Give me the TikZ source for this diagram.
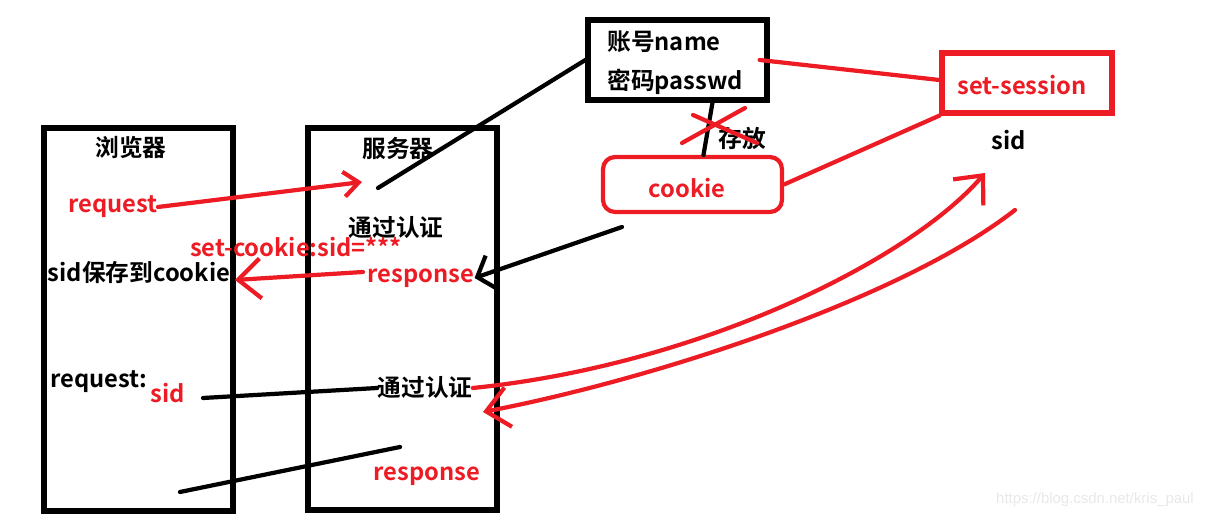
\documentclass[tikz,border=0pt]{standalone}
\usepackage{fontspec}
\setmainfont{Noto Sans CJK SC}[BoldFont={Noto Sans CJK SC Bold}]
\newfontfamily\wmfont{Liberation Sans}
\usetikzlibrary{arrows.meta}
\definecolor{pen}{RGB}{237,28,36}

\begin{document}
\begin{tikzpicture}[x=0.02cm,y=-0.02cm,>={Straight Barb[length=4.5mm,width=8mm]},
  frame/.style={draw=black,line width=3.4pt,inner sep=0pt},
  lbl/.style={font=\bfseries\fontsize{13.5}{16}\selectfont,inner sep=0pt},
  redlbl/.style={lbl,text=pen},
  ink/.style={line width=2.4pt,line cap=round},
  redink/.style={ink,draw=pen}]
\useasboundingbox (0,0) rectangle (1208,519);
% the two columns
\node[frame,minimum width=3.78cm,minimum height=7.66cm] (browser) at (138.5,319.5) {};
\node[frame,minimum width=3.78cm,minimum height=7.64cm] (server) at (402.5,319) {};
\node[lbl] (browsertitle) at (131,148) {浏览器};
\node[lbl] (servertitle) at (398,148) {服务器};
% account box, cookie, session
\node[frame,line width=3pt,minimum width=3.58cm,minimum height=1.6cm] (acct) at (677.5,60) {};
\node[lbl,anchor=west] (acctname) at (607,42) {账号name};
\node[lbl,anchor=west] (acctpass) at (607,82) {密码passwd};
\node[draw=pen,line width=2.4pt,rounded corners=0.24cm,minimum width=3.58cm,minimum height=1.1cm] (cookie) at (692.5,184.5) {};
\node[redlbl] (cookietext) at (687,188) {cookie};
\node[draw=pen,line width=3pt,minimum width=3.4cm,minimum height=1.2cm] (session) at (1027,83) {};
\node[redlbl] (sessiontext) at (1022,85) {set-session};
\node[lbl] (sid) at (1009,140) {sid};
\node[lbl] (store) at (742,138) {存放};
% first round trip
\node[redlbl] (req) at (113,207) {request};
\node[lbl] (auth1) at (396,228) {通过认证};
\node[redlbl] (setck) at (296,247) {set-cookie:sid=***};
\node[lbl] (save) at (139,273) {sid保存到cookie};
\node[redlbl] (resp1) at (421,278) {response};
% second round trip
\node[lbl,anchor=west] (req2) at (50,382) {request:};
\node[redlbl] (reqsid) at (168,393) {sid};
\node[lbl] (auth2) at (425,388) {通过认证};
\node[redlbl] (resp2) at (427,476) {response};
\node[font=\wmfont\fontsize{8.5}{10}\selectfont,text=black!9,inner sep=0pt] (mark) at (1095,500) {https://blog.csdn.net/kris\_paul};

\coordinate (srvin) at (378,188);
\coordinate (reqtip) at (362,182);
\coordinate (backfrom) at (363,272);
\coordinate (backtip) at (235,280);
\coordinate (ckfoot) at (622,227);
\coordinate (uptip) at (985,173);
\coordinate (downfrom) at (1015,210);
\coordinate (downtip) at (483,412);
\coordinate (sidline) at (203,398);
\coordinate (lowfrom) at (180,492);
\coordinate (lowto) at (400,447);

\draw[ink] (srvin) -- (acct.west);
\draw[redink,-{Straight Barb[length=3mm,width=5mm]}] (req.east) -- (reqtip);
\draw[redink,->] (backfrom) -- (backtip);
\draw[ink,-{Straight Barb[length=3mm,width=7mm]}] (ckfoot) -- (resp1.east);
\draw[ink] ([xshift=0.22cm]cookie.north) -- ([xshift=0.7cm]acct.south);
\draw[redink] (682,143) -- (745,108) (693,115) -- (757,143);
\draw[redink] ([xshift=-0.2cm]acct.east) -- ([yshift=0.06cm]session.west);
\draw[redink] (cookie.east) -- (session.south west);
\draw[redink,->] (auth2.east) .. controls (700,365) and (910,260) .. (uptip);
\draw[redink,->] (downfrom) .. controls (900,300) and (650,380) .. (downtip);
\draw[ink] (sidline) -- (auth2.west);
\draw[ink] (lowfrom) -- (lowto);
\end{tikzpicture}
\end{document}
